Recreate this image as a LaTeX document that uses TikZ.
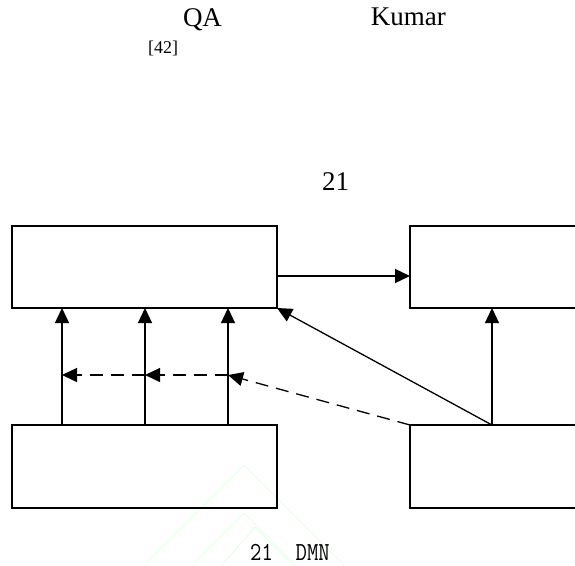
\documentclass[tikz,border=0pt]{standalone}
\usepackage{fontspec}
\setmainfont{Liberation Serif}
\usetikzlibrary{arrows.meta}
\begin{document}
\begin{tikzpicture}[x=1pt,y=-1pt,
  blk/.style={draw,line width=1.6pt,inner sep=0pt,outer sep=0pt},
  arr/.style={line width=1.3pt,-{Triangle[length=15pt,width=14pt]}},
  darr/.style={arr,dash pattern=on 13pt off 8pt},
  txt/.style={inner sep=0pt,font=\fontsize{27}{30}\selectfont},
  wm/.style={draw=green!10,line width=1pt}]
\useasboundingbox (0,0) rectangle (575,565);
% watermark
\begin{scope}
\clip (0,0) rectangle (575,565);
\draw[wm] (144,565) -- (244,465) -- (344,565);
\draw[wm] (192,565) -- (244,513) -- (296,565);
\draw[wm] (222,565) -- (255,527) -- (293,565);
\end{scope}
% texts
\node[txt,anchor=base] (qa) at (202.5,26) {QA};
\node[txt,anchor=base east] (kumar) at (446,25.5) {Kumar};
\node[inner sep=0pt,anchor=base,font=\fontsize{18}{20}\selectfont] (ref) at (163,53) {[42]};
\node[txt,anchor=base] (num) at (335.5,190.5) {21};
\node[inner sep=0pt,anchor=base west,font=\ttfamily\fontsize{26}{28}\selectfont,xscale=0.85,transform shape] (cap) at (250,560) {21\ \ DMN};
% boxes
\node[blk,minimum width=265pt,minimum height=82pt] (tl) at (144.5,267) {};
\node[blk,minimum width=210pt,minimum height=82pt] (tr) at (515,267) {};
\node[blk,minimum width=265pt,minimum height=83pt] (bl) at (144.5,466.5) {};
\node[blk,minimum width=210pt,minimum height=83pt] (br) at (515,466.5) {};
% helper coordinates
\coordinate (h) at (0,276);
\coordinate (a1) at (62,375);
\coordinate (a2) at (145,375);
\coordinate (a3) at (228,375);
\coordinate (s) at (492,425);
% connectors
\draw[arr] (tl.east |- h) -- (tr.west |- h);
\draw[arr] (bl.north -| a1) -- (tl.south -| a1);
\draw[arr] (bl.north -| a2) -- (tl.south -| a2);
\draw[arr] (bl.north -| a3) -- (tl.south -| a3);
\draw[arr] (s) -- (tr.south -| s);
\draw[arr] (s) -- (tl.south east);
\draw[darr] (br.north west) -- (a3);
\draw[darr] (a3) -- (a2);
\draw[darr] (a2) -- (a1);
\end{tikzpicture}
\end{document}
